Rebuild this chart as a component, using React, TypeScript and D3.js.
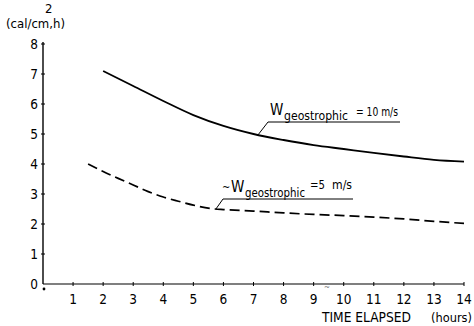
import React from "react";
import * as d3 from "d3";

// values
const hours10 = [2, 3, 4, 5, 6, 7, 8, 9, 10, 11, 12, 13, 14];
const flux10 = [7.1, 6.6, 6.1, 5.63, 5.27, 5.0, 4.8, 4.63, 4.5, 4.37, 4.25, 4.14, 4.08];

const hours5 = [1.5, 2, 2.5, 3, 3.5, 4, 4.5, 5, 5.7, 6, 7, 8, 9, 10, 11, 12, 13, 14];
const flux5 = [4.0, 3.75, 3.52, 3.3, 3.08, 2.9, 2.76, 2.63, 2.5, 2.48, 2.43, 2.37, 2.32, 2.28, 2.23, 2.17, 2.09, 2.02];

const xTicks = [1, 2, 3, 4, 5, 6, 7, 8, 9, 10, 11, 12, 13, 14];
const yTicks = [0, 1, 2, 3, 4, 5, 6, 7, 8];

const font = "'DejaVu Sans Condensed', 'Liberation Sans Narrow', sans-serif";

export default function App() {
  const width = 474,
    height = 326;

  const x = d3.scaleLinear().domain([0, 14]).range([43, 464]);
  const y = d3.scaleLinear().domain([0, 8]).range([284, 44]);

  const line = d3
    .line<[number, number]>()
    .x((d) => x(d[0]))
    .y((d) => y(d[1]))
    .curve(d3.curveMonotoneX);

  const solid = line(hours10.map((h, i) => [h, flux10[i]]));
  const dashed = line(hours5.map((h, i) => [h, flux5[i]]));

  return (
    <svg
      width={width}
      height={height}
      style={{ position: "absolute", left: 0, top: 0, background: "#fff" }}
      fontFamily={font}
    >
      {/* y axis */}
      <line x1={x(0)} x2={x(0)} y1={y(0)} y2={y(8) - 2} stroke="#000" strokeWidth={1.4} />
      {yTicks.map((t) => (
        <g key={"y" + t}>
          {t > 0 && <line x1={x(0) - 2} x2={x(0) + 2} y1={y(t)} y2={y(t)} stroke="#000" strokeWidth={1} />}
          <text x={38} y={y(t) + 5} textAnchor="end" fontSize={13.5}>
            {t}
          </text>
        </g>
      ))}
      <circle cx={x(0) + 1} cy={y(0) + 5} r={1.4} fill="#000" />

      {/* x axis */}
      <line x1={x(0)} x2={x(14)} y1={y(0)} y2={y(0)} stroke="#000" strokeWidth={1.2} />
      {xTicks.map((t) => (
        <g key={"x" + t}>
          <line x1={x(t)} x2={x(t)} y1={y(0) - 2} y2={y(0) + 2} stroke="#000" strokeWidth={1} />
          <text x={x(t)} y={304} textAnchor="middle" fontSize={13.5}>
            {t}
          </text>
        </g>
      ))}
      <text x={327} y={290} textAnchor="middle" fontSize={8} fill="#777">
        ~
      </text>

      {/* axis titles */}
      <text x={6} y={28} fontSize={13} textLength={59} lengthAdjust="spacingAndGlyphs">
        (cal/cm,h)
      </text>
      <text x={45} y={13} fontSize={13}>
        2
      </text>
      <text x={322} y={322} fontSize={13.5} textLength={89} lengthAdjust="spacingAndGlyphs">
        TIME ELAPSED
      </text>
      <text x={431} y={322} fontSize={13} textLength={41} lengthAdjust="spacingAndGlyphs">
        (hours)
      </text>

      {/* curves */}
      <path d={solid ?? ""} fill="none" stroke="#000" strokeWidth={1.8} />
      <path d={dashed ?? ""} fill="none" stroke="#000" strokeWidth={1.7} strokeDasharray="10,5" />

      {/* label 10 m/s */}
      <text x={270} y={115} fontSize={15}>
        W
      </text>
      <text x={284} y={120} fontSize={13} textLength={64} lengthAdjust="spacingAndGlyphs">
        geostrophic
      </text>
      <text x={356} y={116} fontSize={13} textLength={42} lengthAdjust="spacingAndGlyphs">
        = 10 m/s
      </text>
      <polyline
        points={`${x(7.15)},${y(4.97)} 268,122 400,122`}
        fill="none"
        stroke="#000"
        strokeWidth={1}
      />

      {/* label 5 m/s */}
      <text x={222} y={191} fontSize={11}>
        ~
      </text>
      <text x={231} y={192} fontSize={15}>
        W
      </text>
      <text x={245} y={197} fontSize={12} textLength={60} lengthAdjust="spacingAndGlyphs">
        geostrophic
      </text>
      <text x={310} y={189} fontSize={13} textLength={15} lengthAdjust="spacingAndGlyphs">
        =5
      </text>
      <text x={332} y={189} fontSize={13} textLength={20} lengthAdjust="spacingAndGlyphs">
        m/s
      </text>
      <polyline
        points={`${x(5.75)},${y(2.5)} 223,199 353,199`}
        fill="none"
        stroke="#000"
        strokeWidth={1}
      />
    </svg>
  );
}
